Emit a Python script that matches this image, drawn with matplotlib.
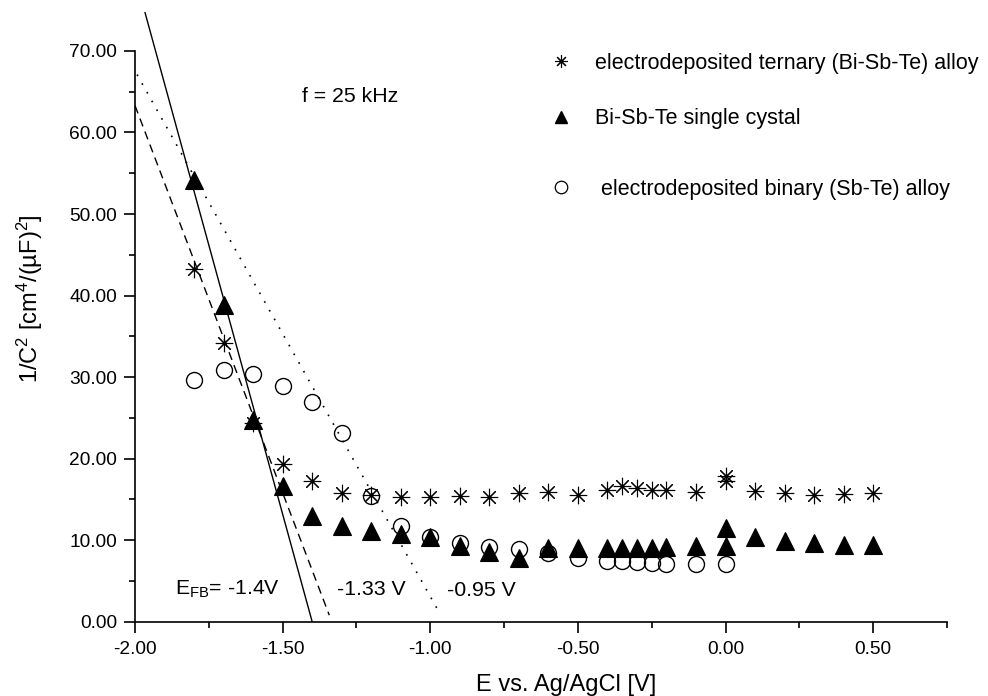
import matplotlib
matplotlib.use("Agg")
import matplotlib.pyplot as plt
from matplotlib.lines import Line2D
from matplotlib.ticker import MultipleLocator, FormatStrFormatter

plt.rcParams['font.family'] = ['Liberation Sans', 'DejaVu Sans']
plt.rcParams['mathtext.default'] = 'regular'

# --- data ---
x_ternary = [-1.8, -1.7, -1.6, -1.5, -1.4, -1.3, -1.2, -1.1, -1.0, -0.9, -0.8, -0.7, -0.6, -0.5,
             -0.4, -0.35, -0.3, -0.25, -0.2, -0.1, 0.0, 0.0, 0.1, 0.2, 0.3, 0.4, 0.5]
y_ternary = [43.2, 34.2, 24.4, 19.4, 17.2, 15.8, 15.6, 15.3, 15.3, 15.4, 15.3, 15.8, 15.9, 15.5,
             16.1, 16.6, 16.4, 16.2, 16.1, 15.9, 17.9, 17.3, 16.0, 15.75, 15.55, 15.7, 15.75]

x_crystal = [-1.8, -1.7, -1.6, -1.5, -1.4, -1.3, -1.2, -1.1, -1.0, -0.9, -0.8, -0.7, -0.6, -0.5,
             -0.4, -0.35, -0.3, -0.25, -0.2, -0.1, 0.0, 0.0, 0.1, 0.2, 0.3, 0.4, 0.5]
y_crystal = [54.2, 38.9, 24.7, 16.7, 13.0, 11.7, 11.1, 10.8, 10.4, 9.3, 8.55, 7.8, 9.1, 9.1,
             9.1, 9.1, 9.1, 9.1, 9.2, 9.3, 9.3, 11.5, 10.35, 9.9, 9.6, 9.4, 9.4]

x_binary = [-1.8, -1.7, -1.6, -1.5, -1.4, -1.3, -1.2, -1.1, -1.0, -0.9, -0.8, -0.7, -0.6, -0.5,
            -0.4, -0.35, -0.3, -0.25, -0.2, -0.1, 0.0]
y_binary = [29.7, 30.9, 30.4, 28.9, 27.0, 23.1, 15.4, 11.7, 10.4, 9.7, 9.2, 8.9, 8.4, 7.8,
            7.5, 7.5, 7.3, 7.2, 7.1, 7.1, 7.1]

# Mott-Schottky fit lines (end points)
fit_solid_x = [-1.966, -1.40]
fit_solid_y = [74.7, 0.0]
fit_dash_x = [-2.0, -1.342]
fit_dash_y = [63.3, 0.8]
fit_dot_x = [-1.993, -0.966]
fit_dot_y = [67.1, 0.9]

labels = ['electrodeposited ternary (Bi-Sb-Te) alloy',
          'Bi-Sb-Te single cystal',
          ' electrodeposited binary (Sb-Te) alloy']

W, H = 988, 696
fig = plt.figure(figsize=(W / 100, H / 100), dpi=100)
ax = fig.add_axes([135 / W, 1 - 621.7 / H, 812 / W, 621.7 / H])

star = (8, 2, 0)
ax.plot(fit_solid_x, fit_solid_y, color='black', lw=1.0, ls='-')
ax.plot(fit_dash_x, fit_dash_y, color='black', lw=1.0, ls=(0, (6, 4)))
ax.plot(fit_dot_x, fit_dot_y, color='black', lw=1.2, ls=(0, (1, 5)))

ax.plot(x_binary, y_binary, ls='none', marker='o', ms=11.5, mfc='none', mec='black', mew=1.0)
ax.plot(x_crystal, y_crystal, ls='none', marker='^', ms=12.5, mfc='black', mec='black', mew=0.8)
ax.plot(x_ternary, y_ternary, ls='none', marker=star, ms=12.5, mec='black', mew=0.8)

ax.set_xlim(-2.0, 0.75)
ax.set_ylim(0, 76.25)
for s in ['top', 'right']:
    ax.spines[s].set_visible(False)
ax.spines['left'].set_bounds(0, 70)
ax.spines['left'].set_linewidth(1.2)
ax.spines['bottom'].set_linewidth(1.2)

ax.xaxis.set_major_locator(MultipleLocator(0.5))
ax.xaxis.set_minor_locator(MultipleLocator(0.25))
ax.set_yticks([0, 10, 20, 30, 40, 50, 60, 70])
ax.set_yticks([5, 15, 25, 35, 45, 55, 65], minor=True)
ax.xaxis.set_major_formatter(FormatStrFormatter('%.2f'))
ax.yaxis.set_major_formatter(FormatStrFormatter('%.2f'))
ax.tick_params(which='major', direction='out', length=8, width=1.2, labelsize=13.8, pad=6)
ax.tick_params(which='minor', direction='out', length=4.5, width=1.2)
ax.tick_params(axis='y', which='major', pad=5)

fs = 15.3
ax.text(-1.436, 63.8, 'f = 25 kHz', fontsize=fs, va='baseline', ha='left')
ax.text(-1.8646, 3.27, 'E$_{FB}$= -1.4V', fontsize=fs, va='baseline', ha='left')
ax.text(-1.317, 3.27, '-1.33 V', fontsize=fs, va='baseline', ha='left')
ax.text(-0.9445, 3.2, '-0.95 V', fontsize=fs, va='baseline', ha='left')

fig.text(566 / W, 1 - 685 / H, 'E vs. Ag/AgCl [V]', fontsize=17, ha='center', va='center')
fig.text(30 / W, 1 - 299 / H, '1/C$^{2}$ [cm$^{4}$/(µF)$^{2}$]', fontsize=17,
         ha='center', va='center', rotation=90)

h1 = Line2D([], [], ls='none', marker=star, ms=9, mec='black', mew=0.8)
h2 = Line2D([], [], ls='none', marker='^', ms=9, mfc='black', mec='black')
h3 = Line2D([], [], ls='none', marker='o', ms=9, mfc='none', mec='black', mew=0.9)
leg_fs = 15.5
leg1 = fig.legend([h1, h2], labels[:2], loc='upper left', bbox_to_anchor=(550 / W, 1 - 53 / H),
                  frameon=False, fontsize=leg_fs, handlelength=1.0, handletextpad=1.1,
                  labelspacing=1.6, borderpad=0, borderaxespad=0)
leg2 = fig.legend([h3], labels[2:], loc='upper left', bbox_to_anchor=(550 / W, 1 - 179 / H),
                  frameon=False, fontsize=leg_fs, handlelength=1.0, handletextpad=1.1,
                  borderpad=0, borderaxespad=0)

fig.savefig('out.png', dpi=100)
